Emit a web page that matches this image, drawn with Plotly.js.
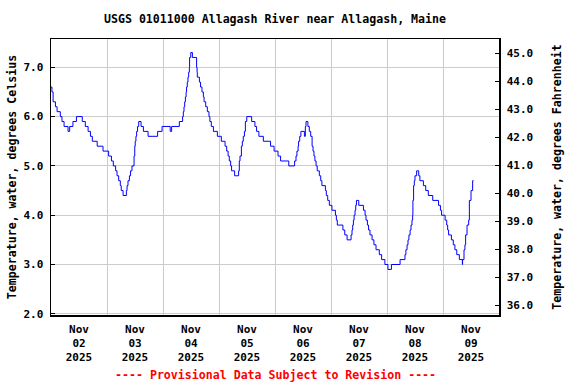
<!DOCTYPE html>
<html>
<head>
<meta charset="utf-8">
<script src="https://cdn.plot.ly/plotly-3.0.1.min.js"></script>
<style>
  html, body { margin: 0; padding: 0; background: #ffffff; }
  #chart { width: 576px; height: 384px; }
</style>
</head>
<body>
<div id="chart"></div>
<script>
// ---- Data (change points of a stepped 0.1 °C record) ----
const startDate = '2025-11-02T00:00:00Z';
// hours since Nov 02 2025 00:00 at which the reading changes
const hoursSinceStart = [
  0.0, 0.4, 0.9, 1.9, 2.6, 4.0, 4.7, 5.6, 7.3, 8.0, 9.4, 10.9, 13.4, 14.7, 15.9, 16.9, 17.7, 19.8, 22.3,
  24.7, 25.9, 26.7, 27.7, 28.3, 29.0, 29.7, 30.1, 30.9, 32.3, 32.6, 33.0, 33.6, 34.1, 34.7, 35.6, 35.9,
  36.1, 36.4, 36.7, 37.1, 37.6, 38.6, 39.6, 41.6, 45.7, 47.6,
  51.1, 51.7, 55.0, 56.4, 56.7, 57.0, 57.3, 57.6, 57.9, 58.1, 58.4, 58.7, 59.0, 59.3, 59.4, 59.9, 60.6,
  62.4, 62.6, 62.7, 63.6, 64.1, 64.7, 65.3, 65.6, 66.3, 67.0, 67.7, 68.1, 68.7, 69.6, 71.3,
  73.0, 74.6, 75.3, 75.9, 76.4, 77.0, 77.4, 78.7, 80.4, 80.7, 81.0, 81.6, 82.0, 82.4, 82.9, 83.3, 83.9,
  86.0, 87.4, 88.1, 89.1, 91.0, 94.1, 95.6, 97.3, 98.4,
  101.9, 104.4, 105.0, 105.4, 105.9, 106.1, 106.6, 107.1, 108.6, 109.0, 109.3, 110.1, 110.7, 111.3,
  111.9, 112.3, 112.7, 113.1, 113.6, 114.1, 115.0, 115.6, 116.1, 117.6, 118.0, 118.6, 119.3,
  120.4, 121.9, 122.3, 122.7, 125.1, 125.9, 126.9, 128.6, 129.0, 129.3, 129.6, 129.9, 130.3, 130.6,
  130.9, 131.9, 133.9, 134.6, 135.0, 135.6, 136.1, 136.7, 137.6, 138.4, 139.3, 140.7, 141.7, 143.1,
  144.4, 145.9, 149.6, 151.7, 152.1, 152.6, 153.0, 153.4, 153.9, 154.3, 154.7, 155.0, 155.1, 155.4,
  155.7, 156.0, 156.7, 157.6, 158.1, 159.6, 160.6, 161.7, 163.6, 166.1, 166.9, 167.4,
  168.9, 169.6, 170.0, 170.4, 171.6, 172.4, 173.1, 173.9, 175.0, 176.3, 176.4, 177.0, 177.4, 177.7,
  178.3, 179.0, 179.3, 180.0, 180.7, 181.1
];
// water temperature, degrees Celsius
const tempC = [
  6.6, 6.5, 6.3, 6.2, 6.1, 6.0, 5.9, 5.8, 5.7, 5.8, 5.9, 6.0, 5.9, 5.8, 5.7, 5.6, 5.5, 5.4, 5.3,
  5.2, 5.1, 5.0, 4.9, 4.8, 4.7, 4.6, 4.5, 4.4, 4.5, 4.6, 4.7, 4.8, 4.9, 5.0, 5.2, 5.4,
  5.5, 5.6, 5.7, 5.8, 5.9, 5.8, 5.7, 5.6, 5.7, 5.8,
  5.7, 5.8, 5.9, 6.0, 6.1, 6.2, 6.3, 6.4, 6.5, 6.6, 6.7, 6.8, 6.9, 7.0, 7.2, 7.3, 7.2,
  7.0, 6.9, 6.8, 6.7, 6.6, 6.5, 6.4, 6.3, 6.2, 6.1, 6.0, 5.9, 5.8, 5.7, 5.6,
  5.5, 5.4, 5.3, 5.2, 5.1, 5.0, 4.9, 4.8, 4.9, 5.1, 5.2, 5.4, 5.5, 5.6, 5.7, 5.9, 6.0,
  5.9, 5.8, 5.7, 5.6, 5.5, 5.4, 5.3, 5.2, 5.1,
  5.0, 5.1, 5.2, 5.3, 5.4, 5.5, 5.6, 5.7, 5.6, 5.8, 5.9, 5.8, 5.7, 5.6,
  5.4, 5.3, 5.2, 5.1, 5.0, 4.9, 4.8, 4.7, 4.6, 4.5, 4.4, 4.3, 4.2,
  4.1, 4.0, 3.9, 3.8, 3.7, 3.6, 3.5, 3.6, 3.7, 3.8, 3.9, 4.0, 4.1, 4.2,
  4.3, 4.2, 4.1, 4.0, 3.9, 3.8, 3.7, 3.6, 3.5, 3.4, 3.3, 3.2, 3.1, 3.0,
  2.9, 3.0, 3.1, 3.2, 3.3, 3.4, 3.5, 3.6, 3.7, 3.8, 3.9, 4.0, 4.3, 4.6,
  4.7, 4.8, 4.9, 4.8, 4.7, 4.6, 4.5, 4.4, 4.3, 4.2, 4.1, 4.0,
  3.9, 3.8, 3.7, 3.6, 3.5, 3.4, 3.3, 3.2, 3.1, 3.0, 3.1, 3.3, 3.4, 3.6,
  3.8, 3.9, 4.3, 4.5, 4.7, 4.7
];
const titleText = 'USGS 01011000 Allagash River near Allagash, Maine';
const leftAxisTitle = 'Temperature, water, degrees Celsius';
const rightAxisTitle = 'Temperature, water, degrees Fahrenheit';
const footerText = '---- Provisional Data Subject to Revision ----';
const xRange = ['2025-11-02 00:00', '2025-11-10 00:00'];
const celsiusRange = [1.976, 7.574];
const fahrenheitRange = [35.65, 45.51];

// ---- Build traces ----
function pad(n) { return (n < 10 ? '0' : '') + n; }
const t0 = Date.parse(startDate);
const times = hoursSinceStart.map(h => {
  const d = new Date(t0 + Math.round(h * 3600000));
  return d.getUTCFullYear() + '-' + pad(d.getUTCMonth() + 1) + '-' + pad(d.getUTCDate()) + ' ' +
         pad(d.getUTCHours()) + ':' + pad(d.getUTCMinutes()) + ':' + pad(d.getUTCSeconds());
});
const tempF = tempC.map(c => c * 1.8 + 32);

const mono = 'DejaVu Sans Mono, Liberation Mono, monospace';

const traces = [
  {
    x: times, y: tempC, type: 'scatter', mode: 'lines',
    line: { color: '#0000ff', width: 1, shape: 'hv' },
    yaxis: 'y', hoverinfo: 'x+y', showlegend: false
  },
  {
    x: times, y: tempF, type: 'scatter', mode: 'lines',
    line: { color: 'rgba(0,0,0,0)', width: 0, shape: 'hv' },
    yaxis: 'y2', hoverinfo: 'skip', showlegend: false
  }
];

const layout = {
  width: 576, height: 384,
  margin: { l: 51, r: 77, t: 39, b: 69 },
  paper_bgcolor: '#ffffff', plot_bgcolor: '#ffffff',
  showlegend: false,
  font: { family: mono, size: 11, color: '#000000', weight: 'bold' },
  title: {
    text: titleText,
    font: { family: mono, size: 11.6, color: '#000000', weight: 'bold' },
    x: 0.5, xanchor: 'center', xref: 'paper',
    y: 1 - 19 / 384, yanchor: 'middle', yref: 'container'
  },
  xaxis: {
    type: 'date', range: xRange,
    tick0: '2025-11-02', dtick: 86400000,
    ticklabelmode: 'period', tickformat: '%b<br>%d<br>%Y',
    ticks: '', showgrid: true, gridcolor: '#cccccc', gridwidth: 1,
    showline: true, linecolor: '#000000', linewidth: 1.5, mirror: true,
    tickfont: { family: mono, size: 11, color: '#000000', weight: 'bold' },
    ticklabelstandoff: 3,
    zeroline: false, fixedrange: true
  },
  yaxis: {
    range: celsiusRange, dtick: 1, tick0: 0, tickformat: '.1f',
    ticks: 'inside', ticklen: 4, tickcolor: '#000000',
    showgrid: true, gridcolor: '#cccccc', gridwidth: 1,
    showline: true, linecolor: '#000000', linewidth: 1.5,
    zeroline: false,
    tickfont: { family: mono, size: 11, color: '#000000', weight: 'bold' },
    ticklabelstandoff: 4,
    title: {
      text: leftAxisTitle, standoff: 4,
      font: { family: mono, size: 11.6, color: '#000000', weight: 'bold' }
    },
    fixedrange: true
  },
  yaxis2: {
    overlaying: 'y', side: 'right', anchor: 'x',
    range: fahrenheitRange, dtick: 1, tick0: 0, tickformat: '.1f',
    ticks: 'inside', ticklen: 4, tickcolor: '#000000',
    showgrid: false, showline: true, linecolor: '#000000', linewidth: 1.5,
    zeroline: false,
    tickfont: { family: mono, size: 11, color: '#000000', weight: 'bold' },
    ticklabelstandoff: 4,
    title: {
      text: rightAxisTitle, standoff: 20,
      font: { family: mono, size: 11.6, color: '#000000', weight: 'bold' }
    },
    fixedrange: true
  },
  annotations: [
    {
      text: footerText, showarrow: false,
      xref: 'paper', x: 0.5, xanchor: 'center',
      yref: 'paper', y: -(375 - 315) / 276, yanchor: 'middle',
      font: { family: mono, size: 11.6, color: '#ff0000', weight: 'bold' }
    }
  ]
};

Plotly.newPlot('chart', traces, layout, { displayModeBar: false, staticPlot: true });
</script>
</body>
</html>
